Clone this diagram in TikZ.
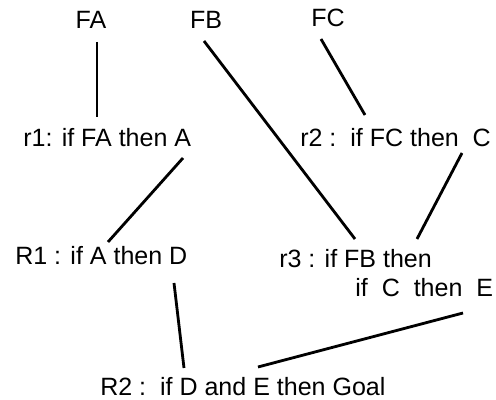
\documentclass[tikz,border=0pt]{standalone}
\usepackage{fontspec}
\setmainfont{Liberation Sans}
\usepackage{tikz}
\usetikzlibrary{calc,positioning}

\begin{document}
\begin{tikzpicture}[
  x=0.025cm, y=-0.025cm,
  fact/.style={inner sep=0pt, anchor=base,
               font=\fontsize{17.8}{21.3}\selectfont},
  rule/.style={inner sep=0pt, anchor=base west, align=left,
               font=\fontsize{17.8}{21.3}\selectfont},
  link/.style={line width=2pt}
]
  \useasboundingbox (0,0) rectangle (496,400);

  % Facts
  \node[fact] (FA) at (91,29) {FA};
  \node[fact] (FB) at (206,29) {FB};
  \node[fact] (FC) at (328,27) {FC};

  % Rules (r3 sits on the baseline of its last line)
  \node[rule] (r1) at (23,147) {r1: if FA then A};
  \node[rule] (r2) at (300,147) {r2 :\ \ if FC then\ \ C};
  \node[rule] (R1) at (15,265) {R1 : if A then D};
  \node[rule] (r3) at (279,297) {r3 : if FB then \\
    \hspace*{3.04em}if\ \ C\ \ then\ \ E};
  \node[rule] (R2) at (100,396) {R2 :\ \ if D and E then Goal};

  % Links
  \draw[link] ($(FA.base)+(6,13)$) -- ($(r1.base west)+(74,-30)$);
  \draw[link] ($(FB.base)+(-2,12)$) -- ($(r3.base west)+(76,-58)$);
  \draw[link] ($(FC.base)+(-7,12)$) -- ($(r2.base west)+(65,-32)$);
  \draw[link] ($(r1.base west)+(160,11)$) -- ($(R1.base west)+(93,-23)$);
  \draw[link] ($(r2.base west)+(162,6)$) -- ($(r3.base west)+(138,-58)$);
  \draw[link] ($(R1.base west)+(159,18)$) -- ($(R2.base west)+(84,-28)$);
  \draw[link] ($(r3.base west)+(184,16)$) -- ($(R2.base west)+(158,-29)$);
\end{tikzpicture}
\end{document}
